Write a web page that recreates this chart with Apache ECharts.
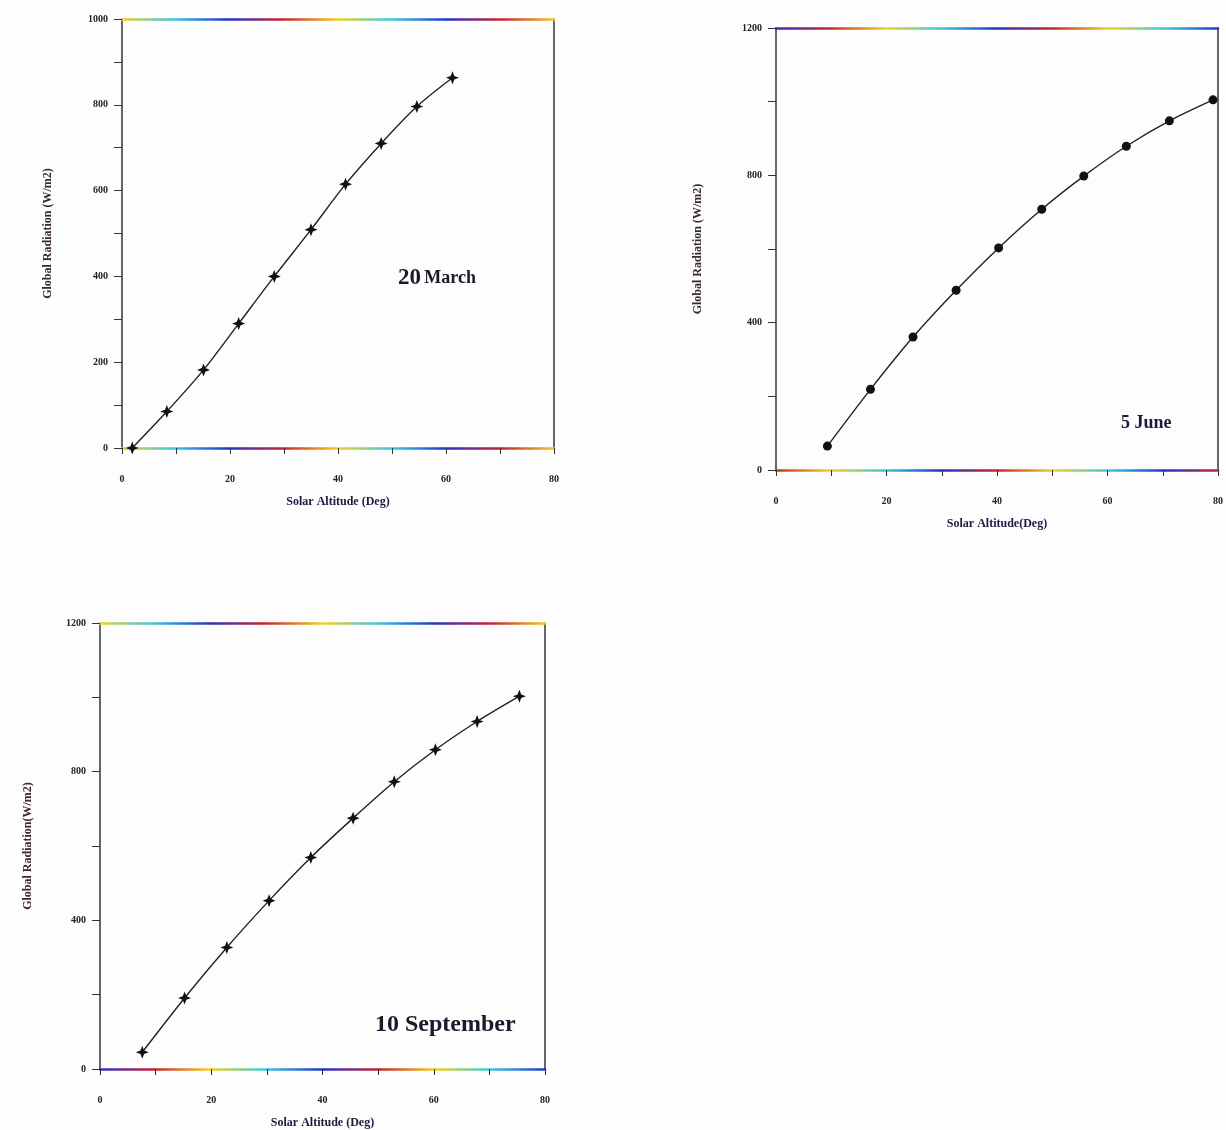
<!DOCTYPE html>
<html>
<head>
<meta charset="utf-8">
<script src="https://cdn.jsdelivr.net/npm/echarts@6/dist/echarts.min.js"></script>
<style>
html,body{margin:0;padding:0;background:#fdfdfd;}
#chart{width:1226px;height:1130px;}
</style>
</head>
<body>
<div id="chart"></div>
<script>
// 20 March
var marchAltitude = [1.9, 8.3, 15.1, 21.6, 28.2, 35.0, 41.4, 48.0, 54.6, 61.2];
var marchRadiation = [0, 85, 182, 290, 400, 509, 615, 710, 796, 863];
// 5 June
var juneAltitude = [9.3, 17.1, 24.8, 32.6, 40.3, 48.1, 55.7, 63.4, 71.2, 79.1];
var juneRadiation = [65, 219, 361, 488, 603, 708, 798, 879, 948, 1005];
// 10 September
var septAltitude = [7.6, 15.2, 22.8, 30.4, 37.9, 45.5, 52.9, 60.3, 67.8, 75.4];
var septRadiation = [45, 191, 327, 453, 569, 675, 773, 859, 935, 1003];

var xTickLabels = [0, 20, 40, 60, 80];
var yTickLabels1 = [0, 200, 400, 600, 800, 1000];
var yTickLabels23 = [0, 400, 800, 1200];

function pairs(xs, ys) { return xs.map(function (x, i) { return [x, ys[i]]; }); }

var serif = 'Liberation Serif';
var axisColor = '#333';
var starPath = 'path://M0,-10 L2.8,-2.8 L10,0 L2.8,2.8 L0,10 L-2.8,2.8 L-10,0 L-2.8,-2.8 Z';

function rainbow(shift) {
  var cols = ['#f2d21e', '#38c8e2', '#2233cc', '#cc2233', '#f2d21e', '#38c8e2', '#2233cc', '#cc2233', '#f2d21e'];
  var c = cols.slice(shift).concat(cols.slice(1, shift + 1));
  return new echarts.graphic.LinearGradient(0, 0, 1, 0, c.map(function (col, i) {
    return { offset: i / (c.length - 1), color: col };
  }));
}

function xAxisDef(idx, name, shift) {
  return {
    type: 'value', gridIndex: idx, min: 0, max: 80, interval: 10,
    name: name, nameLocation: 'middle', nameGap: 48,
    nameTextStyle: { fontFamily: serif, fontWeight: 'bold', fontSize: 12, color: '#1a1a40' },
    axisLine: { show: true, onZero: false, lineStyle: { color: rainbow(shift), width: 2.5 } },
    axisTick: { show: true, length: 6, lineStyle: { color: axisColor } },
    axisLabel: {
      margin: 26, fontFamily: serif, fontWeight: 'bold', fontSize: 10, color: '#222',
      formatter: function (v) { return xTickLabels.indexOf(v) >= 0 ? String(v) : ''; }
    },
    splitLine: { show: false }
  };
}
function topAxisDef(idx, shift) {
  return {
    type: 'value', gridIndex: idx, min: 0, max: 80, position: 'top',
    axisLine: { show: true, onZero: false, lineStyle: { color: rainbow(shift), width: 2.5 } },
    axisTick: { show: false }, axisLabel: { show: false }, splitLine: { show: false }
  };
}
function yAxisDef(idx, max, interval, labels, name, gap) {
  return {
    type: 'value', gridIndex: idx, min: 0, max: max, interval: interval,
    name: name, nameLocation: 'middle', nameGap: gap, nameRotate: 90,
    nameTextStyle: { fontFamily: serif, fontWeight: 'bold', fontSize: 12, color: '#3a2a30' },
    axisLine: { show: true, onZero: false, lineStyle: { color: axisColor, width: 1.5 } },
    axisTick: { show: true, length: 8, lineStyle: { color: axisColor } },
    axisLabel: {
      margin: 14, fontFamily: serif, fontWeight: 'bold', fontSize: 10, color: '#222',
      formatter: function (v) { return labels.indexOf(v) >= 0 ? String(v) : ''; }
    },
    splitLine: { show: false }
  };
}
function rightAxisDef(idx, max) {
  return {
    type: 'value', gridIndex: idx, min: 0, max: max, position: 'right',
    axisLine: { show: true, onZero: false, lineStyle: { color: axisColor, width: 1.5 } },
    axisTick: { show: false }, axisLabel: { show: false }, splitLine: { show: false }
  };
}
function seriesDef(idx, data, symbol, size) {
  return {
    type: 'line', xAxisIndex: idx, yAxisIndex: idx, data: data,
    smooth: 0.3, symbol: symbol, symbolSize: size, showSymbol: true,
    lineStyle: { color: '#222', width: 1.4 },
    itemStyle: { color: '#111' },
    z: 3
  };
}

var chart = echarts.init(document.getElementById('chart'));
chart.setOption({
  animation: false,
  backgroundColor: '#fdfdfd',
  grid: [
    { left: 122, top: 19, width: 432, height: 429 },
    { left: 776, top: 28, width: 442, height: 442 },
    { left: 100, top: 623, width: 445, height: 446 }
  ],
  xAxis: [
    xAxisDef(0, 'Solar Altitude (Deg)', 0),
    xAxisDef(1, 'Solar Altitude(Deg)', 3),
    xAxisDef(2, 'Solar Altitude (Deg)', 2),
    topAxisDef(0, 0),
    topAxisDef(1, 2),
    topAxisDef(2, 0)
  ],
  yAxis: [
    yAxisDef(0, 1000, 100, yTickLabels1, 'Global Radiation (W/m2)', 68),
    yAxisDef(1, 1200, 200, yTickLabels23, 'Global Radiation (W/m2)', 72),
    yAxisDef(2, 1200, 200, yTickLabels23, 'Global Radiation(W/m2)', 66),
    rightAxisDef(0, 1000),
    rightAxisDef(1, 1200),
    rightAxisDef(2, 1200)
  ],
  series: [
    seriesDef(0, pairs(marchAltitude, marchRadiation), starPath, 13),
    seriesDef(1, pairs(juneAltitude, juneRadiation), 'circle', 9),
    seriesDef(2, pairs(septAltitude, septRadiation), starPath, 13)
  ],
  graphic: [
    { type: 'text', left: 398, top: 267, style: {
      text: '{a|20} {b|March}', fill: '#1a1a2a',
      rich: { a: { fontFamily: serif, fontWeight: 'bold', fontSize: 23, fill: '#1a1a2a' },
              b: { fontFamily: serif, fontWeight: 'bold', fontSize: 18, fill: '#1a1a2a' } } } },
    { type: 'text', left: 1121, top: 414, style: {
      text: '5 June', fill: '#1a1a3a', fontFamily: serif, fontWeight: 'bold', fontSize: 18 } },
    { type: 'text', left: 375, top: 1013, style: {
      text: '10 September', fill: '#1a1a2a', fontFamily: serif, fontWeight: 'bold', fontSize: 24 } }
  ]
});
</script>
</body>
</html>
